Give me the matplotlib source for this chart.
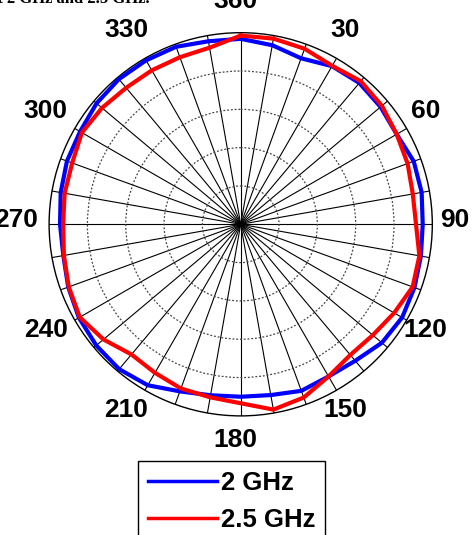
import numpy as np
import matplotlib
matplotlib.use("Agg")
import matplotlib.pyplot as plt
from matplotlib.lines import Line2D
import matplotlib.transforms as mtransforms

# ---- data (normalized radiation pattern) ----
angles_deg = [0, 10, 20, 30, 40, 50, 60, 70, 80, 90, 100, 110, 120, 130, 140, 150, 160, 170,
              180, 190, 200, 210, 220, 230, 240, 250, 260, 270, 280, 290, 300, 310, 320, 330, 340, 350]
pattern_2ghz = [0.968, 0.949, 0.922, 0.953, 0.963, 0.953, 0.940, 0.961, 0.959, 0.950, 0.955, 0.965,
                0.973, 0.962, 0.930, 0.917, 0.925, 0.905, 0.900, 0.906, 0.928, 0.970, 0.987, 0.984,
                0.975, 0.958, 0.940, 0.943, 0.954, 0.965, 0.968, 0.982, 0.989, 0.988, 0.986, 0.970]
pattern_25ghz = [0.985, 0.984, 0.975, 0.955, 0.975, 0.962, 0.940, 0.927, 0.912, 0.915, 0.947, 0.955,
                 0.925, 0.900, 0.890, 0.917, 0.962, 0.982, 0.934, 0.917, 0.912, 0.895, 0.887, 0.935,
                 0.970, 0.955, 0.937, 0.927, 0.933, 0.936, 0.957, 0.945, 0.930, 0.928, 0.928, 0.936]
angle_labels = ["360", "30", "60", "90", "120", "150", "180", "210", "240", "270", "300", "330"]
label_angles = [0, 30, 60, 90, 120, 150, 180, 210, 240, 270, 300, 330]
series_names = ["2 GHz", "2.5 GHz"]
caption = "at 2 GHz and 2.5 GHz."

W, H = 476, 535
fig = plt.figure(figsize=(W / 100, H / 100), dpi=100)

cx, cy, R = 240.7, 224.3, 191.6
ax = fig.add_axes([(cx - R) / W, 1 - (cy + R) / H, 2 * R / W, 2 * R / H], projection="polar")
ax.set_theta_zero_location("N")
ax.set_theta_direction(-1)
ax.set_ylim(0, 1)

ax.set_thetagrids(range(0, 360, 10), labels=[""] * 36)
ax.set_rgrids([0.2, 0.4, 0.6, 0.8], labels=[""] * 4)
ax.xaxis.grid(True, color="black", lw=0.8, ls="-")
ax.yaxis.grid(True, color="#444444", lw=0.9, ls=(0, (1.5, 1.5)))
ax.tick_params(axis="both", length=0, pad=0)
ax.spines["polar"].set_color("black")
ax.spines["polar"].set_linewidth(1.0)

th = np.deg2rad(angles_deg + [angles_deg[0]])
r1 = pattern_2ghz + [pattern_2ghz[0]]
r2 = pattern_25ghz + [pattern_25ghz[0]]
ax.plot(th, r1, color="#0000ff", lw=3.0, solid_joinstyle="round", zorder=3)
ax.plot(th, r2, color="#ff0000", lw=3.0, solid_joinstyle="round", zorder=4)

offset = mtransforms.ScaledTranslation(-5 / 100, 4 / 100, fig.dpi_scale_trans)
for a, lab in zip(label_angles, angle_labels):
    ax.text(np.deg2rad(a), 1.145, lab, ha="center", va="center", fontsize=19,
            fontweight="bold", family=["Liberation Sans", "DejaVu Sans"],
            transform=ax.transData + offset, clip_on=False)

fig.text(150 / W, 1 - 3 / H, caption, ha="right", va="baseline", fontsize=12,
         fontweight="bold", family=["Liberation Serif", "DejaVu Serif"])

handles = [Line2D([], [], color="#0000ff", lw=2.5), Line2D([], [], color="#ff0000", lw=2.5)]
leg = fig.legend(handles, series_names, loc="upper left",
                 bbox_to_anchor=(138.3 / W, 1 - 460.7 / H),
                 prop={"family": ["Liberation Sans", "DejaVu Sans"], "weight": "bold", "size": 18.5},
                 frameon=True, fancybox=False, edgecolor="black", framealpha=1,
                 borderpad=0.39, handlelength=2.67, handletextpad=0.15, labelspacing=0.5,
                 borderaxespad=0)
leg.get_frame().set_linewidth(1.0)

fig.savefig("out.png", dpi=100)
